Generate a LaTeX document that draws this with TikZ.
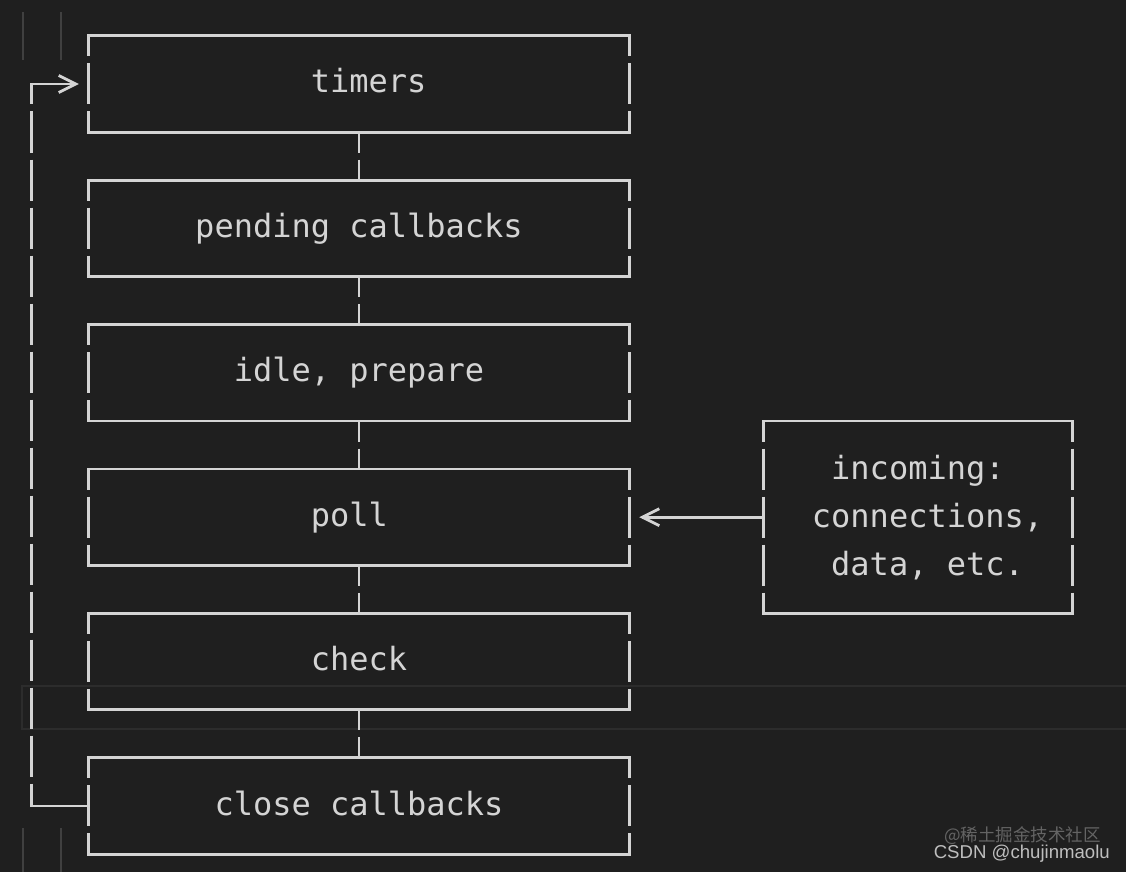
\documentclass[tikz,border=0pt]{standalone}
\usepackage{fontspec}
\setmonofont{DejaVu Sans Mono}
\newfontfamily\wmfont{Liberation Sans}
\newfontfamily\cjkfont{Noto Sans CJK SC}
\usetikzlibrary{positioning,arrows.meta}
\definecolor{editorbg}{RGB}{31,31,31}
\definecolor{asciiline}{RGB}{212,212,212}
\definecolor{currentline}{RGB}{44,44,44}
\definecolor{indentguide}{RGB}{64,64,64}
\definecolor{wmdark}{RGB}{100,100,100}
\definecolor{wmlight}{RGB}{190,190,190}
\tikzstyle{phase_box} = [rectangle, minimum width=540pt, minimum height=96pt, inner sep=0pt, text=asciiline, font=\ttfamily\fontsize{32}{48}\selectfont, text height=24pt, text depth=6pt]
\tikzstyle{input_box} = [rectangle, minimum width=309pt, minimum height=192pt, inner sep=0pt, text=asciiline, align=center, font=\ttfamily\fontsize{32}{48}\selectfont]
\tikzstyle{solid_edge} = [line width=2.8pt, draw=asciiline, line cap=rect]
\tikzstyle{bar_edge} = [line width=2.8pt, draw=asciiline, dash pattern=on 41pt off 7pt, dash phase=20.5pt]
\tikzstyle{ascii_arrow} = [solid_edge, -{Straight Barb[length=17pt,width=17pt,line width=2.8pt].}, shorten >=10pt]
\tikzstyle{guide} = [line width=1.3pt, draw=indentguide]
% ascii frame: solid top and bottom, broken sides
\newcommand{\asciibox}[1]{%
  \draw[solid_edge] (#1.north west) -- (#1.north east);
  \draw[solid_edge] (#1.south west) -- (#1.south east);
  \draw[bar_edge] (#1.north west) -- (#1.south west);
  \draw[bar_edge] (#1.north east) -- (#1.south east);
}

\begin{document}
\begin{tikzpicture}[x=1pt, y=-1pt]
        % Editor ------------------------------------------------------------------------------------
        \fill[editorbg] (0,0) rectangle (1126,872);
        \useasboundingbox (0,0) rectangle (1126,872);
        \draw[currentline, line width=2.5pt] (22,686) rectangle (1130,729);
        \draw[guide] (23,12) -- (23,60) (61,12) -- (61,60);
        \draw[guide] (23,828) -- (23,872) (61,828) -- (61,872);
        % Phases ------------------------------------------------------------------------------------
        \node[phase_box](timers) at (359,84){\phantom{x}timers};
        \node[phase_box, below=48pt of timers](pending){pending callbacks};
        \node[phase_box, below=48pt of pending](idle){idle, prepare};
        \node[phase_box, below=48pt of idle](poll){poll\phantom{x}};
        \node[phase_box, below=48pt of poll](check){check};
        \node[phase_box, below=48pt of check](close){close callbacks};
        \foreach \phase in {timers,pending,idle,poll,check,close}
            \asciibox{\phase};
        % Input -------------------------------------------------------------------------------------
        \node[input_box, right=134pt of poll](incoming){incoming:\\\phantom{x}connections,\\\phantom{x}data, etc.};
        \asciibox{incoming}
        % Links -------------------------------------------------------------------------------------
        \foreach \from/\to in {timers/pending,pending/idle,idle/poll,poll/check,check/close}
            \draw[bar_edge] (\from.south) -- (\to.north);
        \draw[ascii_arrow] (incoming.west) -- (poll.east);
        % Loop back
        \coordinate[left=57pt of close.west](loop_bottom);
        \coordinate(loop_top) at (loop_bottom |- timers.west);
        \draw[solid_edge] (close.west) -- (loop_bottom);
        \draw[bar_edge] (loop_top) -- (loop_bottom);
        \draw[ascii_arrow] (loop_top) -- (timers.west);
        % Watermark ---------------------------------------------------------------------------------
        \node[anchor=base east, inner sep=0pt, text=wmdark, font=\cjkfont\fontsize{17.5}{17.5}\selectfont](wm_juejin) at (1101,841){@稀土掘金技术社区};
        \node[anchor=base east, inner sep=0pt, text=wmlight, font=\wmfont\fontsize{18.6}{18.6}\selectfont](wm_csdn) at (1110,858){CSDN @chujinmaolu};
    \end{tikzpicture}
\end{document}
